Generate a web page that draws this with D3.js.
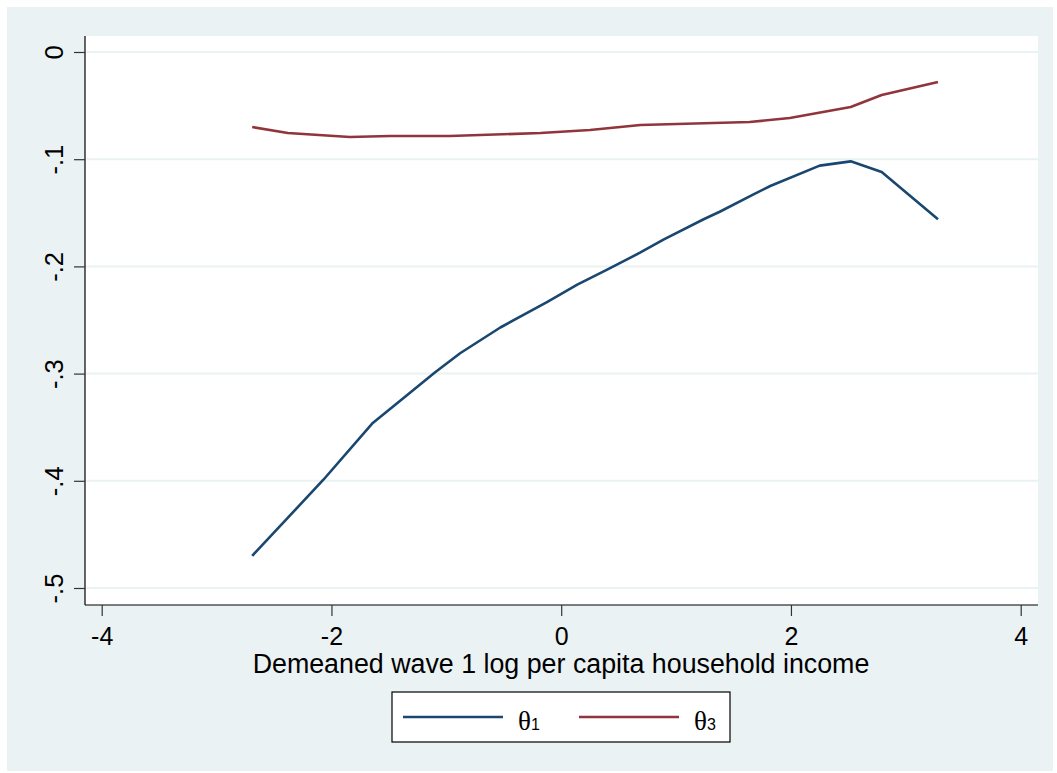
<!DOCTYPE html>
<head>
	<meta charset="utf-8">
	<script src="https://d3js.org/d3.v7.min.js"></script>
	<style type="text/css">
		body { margin: 0; background: #fff; }
		text { font-family: "Liberation Sans", Arial, sans-serif; fill: #000; }
		.grid { stroke: #eaf2f3; stroke-width: 2; }
	</style>
</head>
<body>
	<script type="text/javascript">
		// data
		let theta1X = [-2.69, -2.07, -1.64, -1.375, -1.10, -0.88, -0.53, -0.12, 0.14, 0.40, 0.69, 0.89, 1.24, 1.38, 1.67, 1.82, 2.25, 2.52, 2.79, 3.28],
			theta1Y = [-0.470, -0.399, -0.346, -0.323, -0.299, -0.281, -0.257, -0.233, -0.217, -0.203, -0.187, -0.175, -0.156, -0.149, -0.133, -0.125, -0.106, -0.102, -0.112, -0.156],
			theta3X = [-2.69, -2.38, -1.84, -1.49, -0.97, -0.18, 0.25, 0.69, 1.64, 1.99, 2.52, 2.79, 3.28],
			theta3Y = [-0.070, -0.0756, -0.0793, -0.0784, -0.0784, -0.0756, -0.0728, -0.0681, -0.0653, -0.0616, -0.0513, -0.0401, -0.028],
			xTicks = [-4, -2, 0, 2, 4],
			yTicks = [0, -0.1, -0.2, -0.3, -0.4, -0.5],
			yTickLabels = ["0", "-.1", "-.2", "-.3", "-.4", "-.5"],
			xTitle = "Demeaned wave 1 log per capita household income",
			legendNames = ["1", "3"],
			colors = ["#1a476f", "#90353b"];
	</script>
	<script type="text/javascript">
		let w = 1057, h = 773;

		let svg = d3.select("body").append("svg")
			.attr("width", w)
			.attr("height", h);

		// outer background
		svg.append("rect").attr("x", 7).attr("y", 7).attr("width", 1046).attr("height", 764).attr("fill", "#eaf2f3");
		// plot region
		svg.append("rect").attr("x", 85).attr("y", 36).attr("width", 953).attr("height", 569).attr("fill", "#fff");

		let x = d3.scaleLinear().domain([-4, 4]).range([101.7, 1020.7]);
		let y = d3.scaleLinear().domain([0, -0.5]).range([52, 588]);

		// gridlines
		svg.selectAll(".grid").data(yTicks).enter().append("line")
			.attr("class", "grid")
			.attr("x1", 86).attr("x2", 1038)
			.attr("y1", d => y(d)).attr("y2", d => y(d));

		// y axis
		let yAxis = svg.append("g").attr("transform", "translate(85,0)")
			.call(d3.axisLeft(y).tickValues(yTicks).tickSize(11).tickFormat((d, i) => yTickLabels[i]));
		yAxis.select(".domain").attr("d", "M0,36V605").attr("stroke", "#000").attr("stroke-width", 1.2);
		yAxis.selectAll(".tick line").attr("stroke", "#333").attr("stroke-width", 1.2);
		yAxis.selectAll(".tick text")
			.attr("x", null).attr("dy", null)
			.attr("transform", "translate(-22,0) rotate(-90)")
			.attr("text-anchor", "middle")
			.style("font-size", "25.5px").style("font-family", "'Liberation Sans', Arial, sans-serif");

		// x axis
		let xAxis = svg.append("g").attr("transform", "translate(0,605)")
			.call(d3.axisBottom(x).tickValues(xTicks).tickSize(11).tickFormat(d => d < 0 ? "-" + Math.abs(d) : d));
		xAxis.select(".domain").attr("d", "M85,0H1038").attr("stroke", "#000").attr("stroke-width", 1.2);
		xAxis.selectAll(".tick line").attr("stroke", "#333").attr("stroke-width", 1.2);
		xAxis.selectAll(".tick text")
			.attr("y", 40).attr("dy", null)
			.style("font-size", "25px").style("font-family", "'Liberation Sans', Arial, sans-serif");

		svg.append("text").attr("x", 561).attr("y", 673)
			.attr("text-anchor", "middle").style("font-size", "26.8px")
			.text(xTitle);

		// lines
		let line = d3.line().x(d => x(d[0])).y(d => y(d[1]));
		let series = [d3.zip(theta1X, theta1Y), d3.zip(theta3X, theta3Y)];
		svg.selectAll(".series").data(series).enter().append("path")
			.attr("class", "series")
			.attr("d", line)
			.attr("fill", "none")
			.attr("stroke", (d, i) => colors[i])
			.attr("stroke-width", 2.6)
			.attr("stroke-linejoin", "round");

		// legend
		svg.append("rect").attr("x", 392).attr("y", 692).attr("width", 338).attr("height", 50)
			.attr("fill", "#fff").attr("stroke", "#000").attr("stroke-width", 1.2);
		let lg = svg.selectAll(".lg").data(legendNames).enter().append("g")
			.attr("class", "lg")
			.attr("transform", (d, i) => "translate(" + (403 + i * 176) + ",717)");
		lg.append("line").attr("x1", 0).attr("x2", 100).attr("y1", 0).attr("y2", 0)
			.attr("stroke", (d, i) => colors[i]).attr("stroke-width", 2.6);
		let lt = lg.append("text").attr("x", 115).attr("y", 13);
		lt.append("tspan").style("font-family", "'Liberation Serif', 'Times New Roman', serif").style("font-size", "27px").text("θ");
		lt.append("tspan").style("font-size", "16px").text(d => d);
	</script>
</body>
</html>
